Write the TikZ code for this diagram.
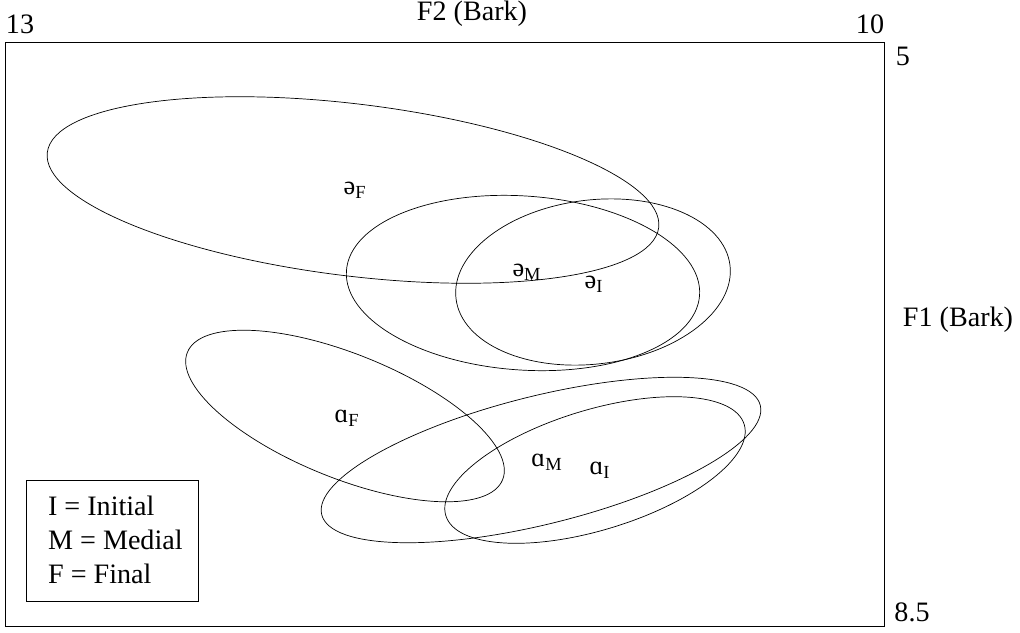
\documentclass[tikz,border=0pt]{standalone}
\usepackage{fontspec}
\setmainfont{Liberation Serif}
\begin{document}
\begin{tikzpicture}[x=0.02cm,y=-0.02cm]
        \tikzset{lbl/.style={inner sep=1pt,font=\fontsize{16}{18}\selectfont}}
        \tikzset{vowel/.style={inner sep=1pt,font=\fontsize{15}{17}\selectfont}}
        \tikzset{region/.style={draw=black,thin}}
        \useasboundingbox (0,0) rectangle (1020,632);

        % frame and axes
        \draw[thin] (5,42) rectangle (884,626);
        \node [lbl] (f2) at (472,14) {F2 (Bark)};
        \node [lbl] (xmin) at (20,24) {13};
        \node [lbl] (xmax) at (870,24) {10};
        \node [lbl] (ymin) at (903,56) {5};
        \node [lbl] (ymax) at (912,612) {8.5};
        \node [lbl] (f1) at (958,320) {F1 (Bark)};

        % schwa
        \draw[region, rotate around={-7:(353,190)}] (353,190) ellipse (308 and 86);
        \draw[region, rotate around={-4:(523,283)}] (523,283) ellipse (177 and 87);
        \draw[region, rotate around={7:(593,282)}] (593,282) ellipse (138 and 82);
        \node [vowel] (schF) at (355,190) {ə\textsubscript{F}};
        \node [vowel] (schM) at (527,272) {ə\textsubscript{M}};
        \node [vowel] (schI) at (594,284) {ə\textsubscript{I}};

        % open a
        \draw[region, rotate around={-22:(345,416)}] (345,416) ellipse (170 and 62);
        \draw[region, rotate around={14:(541,460)}] (541,460) ellipse (226 and 64);
        \draw[region, rotate around={17:(595,470)}] (595,470) ellipse (156 and 60);
        \node [vowel] (aF) at (347,418) {ɑ\textsubscript{F}};
        \node [vowel] (aM) at (547,462) {ɑ\textsubscript{M}};
        \node [vowel] (aI) at (600,470) {ɑ\textsubscript{I}};

        % legend
        \draw[thin] (26,480) rectangle (198,601);
        \node [lbl, anchor=west] (legI) at (46,506) {I = Initial};
        \node [lbl, anchor=west] (legM) at (46,540) {M = Medial};
        \node [lbl, anchor=west] (legF) at (46,574) {F = Final};
    \end{tikzpicture}
\end{document}
